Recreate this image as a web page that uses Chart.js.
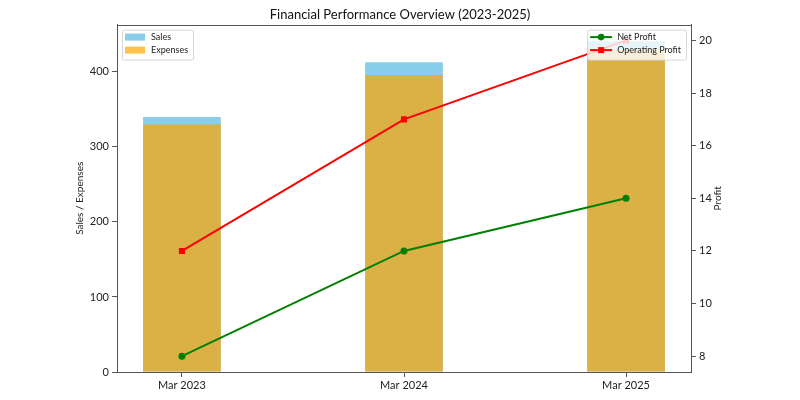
<!DOCTYPE html>
<html>
<head>
<meta charset="utf-8">
<script src="https://cdn.jsdelivr.net/npm/chart.js@4.4.1/dist/chart.umd.min.js"></script>
<style>
  html, body { margin: 0; padding: 0; background: #fff; }
</style>
</head>
<body>
<canvas id="grafico" width="800" height="400"></canvas>
<script>
// dados
const periods = ['Mar 2023', 'Mar 2024', 'Mar 2025'];
const sales = [340, 413, 441];
const expenses = [330, 396, 430];
const netProfit = [8, 12, 14];
const operatingProfit = [12, 17, 20];

const BAR_WIDTH = 0.35;
const FONT = 'Lato, "DejaVu Sans", sans-serif';
const TEXT = '#222';
const SPINE = '#555';

const toPoints = arr => arr.map((v, i) => ({ x: i, y: v }));

// margens de 5% como no matplotlib
const xLo = -BAR_WIDTH / 2, xHi = periods.length - 1 + BAR_WIDTH / 2;
const xPad = (xHi - xLo) * 0.05;
const leftMax = Math.max(...sales, ...expenses) * 1.05;
const pLo = Math.min(...netProfit, ...operatingProfit);
const pHi = Math.max(...netProfit, ...operatingProfit);
const pPad = (pHi - pLo) * 0.05;

// legendas dentro da área do gráfico + borda superior + título do eixo direito
const extras = {
    id: 'extras',
    afterDatasetsDraw(chart) {
        const { ctx, chartArea: a } = chart;
        ctx.save();
        ctx.strokeStyle = SPINE;
        ctx.lineWidth = 1;
        ctx.beginPath();
        ctx.moveTo(a.left, Math.round(a.top) + 0.5);
        ctx.lineTo(a.right, Math.round(a.top) + 0.5);
        ctx.stroke();

        ctx.font = '9px ' + FONT;
        ctx.textBaseline = 'middle';
        const ds = chart.data.datasets;
        const bars = ds.filter(d => d.type === 'bar');
        const lines = ds.filter(d => d.type === 'line');

        function box(x, y, w, h) {
            ctx.fillStyle = 'rgba(255,255,255,0.8)';
            ctx.strokeStyle = '#d6d6d6';
            ctx.lineWidth = 1;
            ctx.beginPath();
            ctx.roundRect(x + 0.5, y + 0.5, w, h, 2);
            ctx.fill();
            ctx.stroke();
        }

        // esquerda: barras
        let w = Math.max(...bars.map(d => ctx.measureText(d.label).width)) + 34;
        let x0 = a.left + 5, y0 = a.top + 5;
        box(x0, y0, w, 30);
        bars.forEach((d, i) => {
            const cy = y0 + 7.5 + i * 13;
            ctx.fillStyle = d.backgroundColor;
            ctx.fillRect(x0 + 3, cy - 3.5, 20, 7);
            ctx.fillStyle = TEXT;
            ctx.fillText(d.label, x0 + 29, cy);
        });

        // direita: linhas
        w = Math.max(...lines.map(d => ctx.measureText(d.label).width)) + 35;
        x0 = a.right - 5 - w;
        box(x0, y0, w, 30);
        lines.forEach((d, i) => {
            const cy = y0 + 7.5 + i * 13;
            ctx.strokeStyle = d.borderColor;
            ctx.lineWidth = 2;
            ctx.beginPath();
            ctx.moveTo(x0 + 3, cy);
            ctx.lineTo(x0 + 25, cy);
            ctx.stroke();
            ctx.fillStyle = d.borderColor;
            if (d.pointStyle === 'rect') {
                ctx.fillRect(x0 + 14 - 3, cy - 3, 6, 6);
            } else {
                ctx.beginPath();
                ctx.arc(x0 + 14, cy, 3.3, 0, Math.PI * 2);
                ctx.fill();
            }
            ctx.fillStyle = TEXT;
            ctx.fillText(d.label, x0 + 30, cy);
        });

        // título do eixo direito
        ctx.font = '10px ' + FONT;
        ctx.fillStyle = TEXT;
        ctx.textAlign = 'center';
        ctx.translate(718, (a.top + a.bottom) / 2);
        ctx.rotate(-Math.PI / 2);
        ctx.fillText('Profit', 0, 0);
        ctx.restore();
    }
};

function axisGrid() {
    return { drawOnChartArea: false, drawTicks: true, tickLength: 5, color: SPINE, offset: false };
}

const ctx = document.getElementById('grafico').getContext('2d');
new Chart(ctx, {
    data: {
        datasets: [
            { type: 'line', label: 'Net Profit', data: toPoints(netProfit), yAxisID: 'y1',
              borderColor: '#008000', backgroundColor: '#008000', borderWidth: 2,
              pointStyle: 'circle', pointRadius: 3.5, pointBorderWidth: 0, order: 0 },
            { type: 'line', label: 'Operating Profit', data: toPoints(operatingProfit), yAxisID: 'y1',
              borderColor: '#ff0000', backgroundColor: '#ff0000', borderWidth: 2,
              pointStyle: 'rect', pointRadius: 4.3, pointBorderWidth: 0, order: 0 },
            { type: 'bar', label: 'Sales', data: toPoints(sales), yAxisID: 'y',
              backgroundColor: '#87ceeb', grouped: false,
              categoryPercentage: 1, barPercentage: BAR_WIDTH, order: 2 },
            { type: 'bar', label: 'Expenses', data: toPoints(expenses), yAxisID: 'y',
              backgroundColor: 'rgba(255,165,0,0.7)', grouped: false,
              categoryPercentage: 1, barPercentage: BAR_WIDTH, order: 1 }
        ]
    },
    options: {
        responsive: false,
        animation: false,
        devicePixelRatio: 1,
        layout: { padding: 0 },
        plugins: {
            legend: { display: false },
            tooltip: { enabled: false },
            title: {
                display: true,
                text: 'Financial Performance Overview (2023-2025)',
                color: '#111',
                font: { family: FONT, size: 13, weight: 'normal' },
                padding: { top: 7, bottom: 2 }
            }
        },
        scales: {
            x: {
                type: 'linear', position: 'bottom', offset: false,
                min: xLo - xPad, max: xHi + xPad,
                ticks: { stepSize: 1, includeBounds: false, color: TEXT, padding: 2,
                         font: { family: FONT, size: 11 },
                         callback: v => periods[v] ?? '' },
                grid: axisGrid(),
                border: { color: SPINE },
                afterFit: s => { s.height = 28; }
            },
            y: {
                position: 'left', min: 0, max: leftMax,
                ticks: { stepSize: 100, includeBounds: false, color: TEXT, padding: 3,
                         font: { family: FONT, size: 11 } },
                grid: axisGrid(),
                border: { color: SPINE },
                title: { display: true, text: 'Sales / Expenses', color: TEXT,
                         font: { family: FONT, size: 10 }, padding: { top: 74, bottom: 0 } },
                afterFit: s => { s.width = 117; }
            },
            y1: {
                position: 'right', min: pLo - pPad, max: pHi + pPad,
                ticks: { stepSize: 2, includeBounds: false, color: TEXT, padding: 3,
                         font: { family: FONT, size: 11 } },
                grid: axisGrid(),
                border: { color: SPINE },
                afterFit: s => { s.width = 109; }
            }
        }
    },
    plugins: [extras]
});
</script>
</body>
</html>
